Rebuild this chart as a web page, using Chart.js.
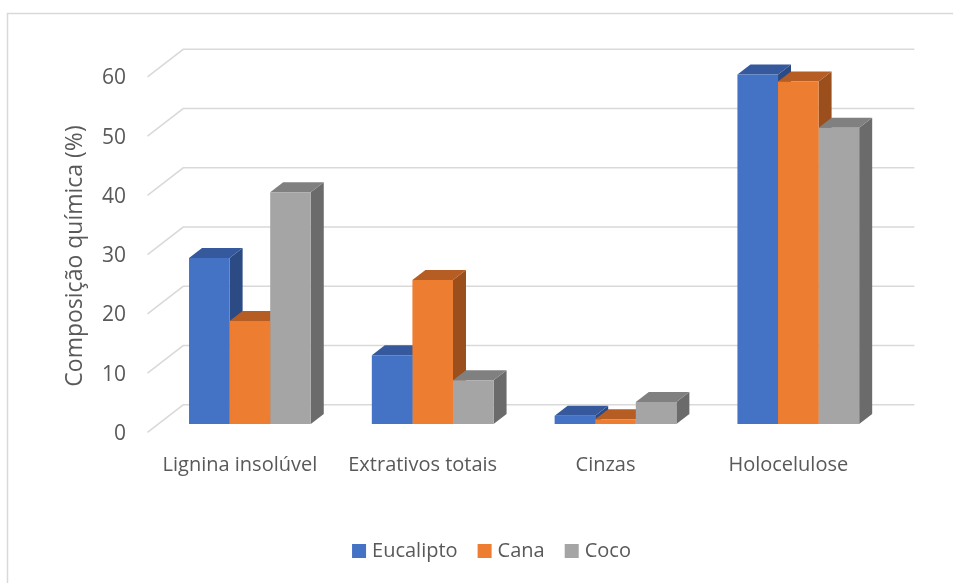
<!DOCTYPE html>
<html lang="pt">
<head>
<meta charset="utf-8">
<title>Composição química</title>
<script src="https://cdn.jsdelivr.net/npm/chart.js@4.4.0/dist/chart.umd.min.js"></script>
<style>
  html, body { margin: 0; padding: 0; background: #fff; }
  #wrap { position: relative; width: 953px; height: 583px; }
</style>
</head>
<body>
<div id="wrap"><canvas id="grafico" width="953" height="583"></canvas></div>
<script>
// dados (%)
const categorias = ['Lignina insolúvel', 'Extrativos totais', 'Cinzas', 'Holocelulose'];
const series = ['Eucalipto', 'Cana', 'Coco'];
const eucalipto = [28.0, 11.6, 1.4, 59.0];
const cana = [17.4, 24.3, 0.8, 57.8];
const coco = [39.1, 7.4, 3.7, 50.0];
const yMin = 0, yMax = 60, yPasso = 10;
const tituloY = 'Composição química (%)';

// cores: frente, topo, lateral
const cores = [
  ['#4472c4', '#35599c', '#2c4b85'],
  ['#ed7d31', '#b55d22', '#9a4f1d'],
  ['#a5a5a5', '#808080', '#6b6b6b']
];

const FONTE = "'Open Sans', 'Noto Sans', sans-serif";
const TEXTO = '#595959';
const GRADE = '#d9d9d9';

// deslocamentos do efeito 3D (px)
const PROF = { x: 13, y: -10 };       // profundidade das barras
const FUNDO = { x: 24.7, y: -19.2 };  // parede do fundo
const PISO = { x: -11, y: 8.3 };      // borda da frente do piso

const efeito3d = {
  id: 'efeito3d',
  beforeDraw(chart) {
    const { ctx, width, height } = chart;
    ctx.save();
    ctx.strokeStyle = GRADE;
    ctx.lineWidth = 1.5;
    ctx.beginPath();
    ctx.moveTo(7.5, height);
    ctx.lineTo(7.5, 13.5);
    ctx.lineTo(width, 13.5);
    ctx.stroke();
    ctx.restore();
  },
  beforeDatasetsDraw(chart) {
    const { ctx, chartArea: a, scales: { y } } = chart;
    ctx.save();
    // grade na parede do fundo + diagonais do lado esquerdo
    ctx.strokeStyle = GRADE;
    ctx.lineWidth = 1.5;
    y.ticks.forEach(t => {
      const py = y.getPixelForValue(t.value);
      ctx.beginPath();
      ctx.moveTo(a.left + PISO.x, py + PISO.y);
      ctx.lineTo(a.left + FUNDO.x, py + FUNDO.y);
      ctx.lineTo(a.right + FUNDO.x, py + FUNDO.y);
      ctx.stroke();
    });
    // topo e lateral de cada barra, da esquerda para a direita
    categorias.forEach((_, j) => {
      chart.data.datasets.forEach((ds, i) => {
        const b = chart.getDatasetMeta(i).data[j];
        const { x, y: topo, base, width } = b.getProps(['x', 'y', 'base', 'width'], true);
        const l = x - width / 2, r = x + width / 2;
        ctx.fillStyle = cores[i][2];
        ctx.beginPath();
        ctx.moveTo(r, topo);
        ctx.lineTo(r + PROF.x, topo + PROF.y);
        ctx.lineTo(r + PROF.x, base + PROF.y);
        ctx.lineTo(r, base);
        ctx.closePath();
        ctx.fill();
        ctx.fillStyle = cores[i][1];
        ctx.beginPath();
        ctx.moveTo(l, topo);
        ctx.lineTo(r, topo);
        ctx.lineTo(r + PROF.x, topo + PROF.y);
        ctx.lineTo(l + PROF.x, topo + PROF.y);
        ctx.closePath();
        ctx.fill();
      });
    });
    ctx.restore();
  },
  afterDraw(chart) {
    const { ctx } = chart;
    ctx.save();
    ctx.fillStyle = TEXTO;
    // título do eixo Y
    ctx.font = `23px ${FONTE}`;
    ctx.textAlign = 'center';
    ctx.textBaseline = 'middle';
    ctx.translate(75.5, 256);
    ctx.rotate(-Math.PI / 2);
    ctx.fillText(tituloY, 0, 0);
    ctx.setTransform(1, 0, 0, 1, 0, 0);
    // legenda
    ctx.font = `20px ${FONTE}`;
    ctx.textAlign = 'left';
    const itens = chart.data.datasets.map(ds => ({ t: ds.label, c: ds.backgroundColor, w: ctx.measureText(ds.label).width }));
    const total = itens.reduce((s, it) => s + 14 + 6 + it.w, 0) + 20 * (itens.length - 1);
    let x = 491.5 - total / 2;
    itens.forEach(it => {
      ctx.fillStyle = it.c;
      ctx.fillRect(x, 544, 14, 14);
      ctx.fillStyle = TEXTO;
      ctx.fillText(it.t, x + 20, 551);
      x += 20 + it.w + 20;
    });
    ctx.restore();
  }
};

const dados = [eucalipto, cana, coco];

new Chart(document.getElementById('grafico'), {
  type: 'bar',
  data: {
    labels: categorias,
    datasets: series.map((nome, i) => ({
      label: nome,
      data: dados[i],
      backgroundColor: cores[i][0],
      borderWidth: 0,
      barPercentage: 1,
      categoryPercentage: 0.666
    }))
  },
  options: {
    responsive: false,
    animation: false,
    layout: { padding: { top: 68.5, right: 63.3, bottom: 0, left: 0 } },
    plugins: {
      legend: { display: false },
      tooltip: { enabled: false }
    },
    scales: {
      x: {
        grid: { display: false, drawTicks: false },
        border: { display: false },
        ticks: { color: TEXTO, font: { family: FONTE, size: 20 }, padding: 29, labelOffset: -10, maxRotation: 0 },
        afterFit(s) { s.height = 159; }
      },
      y: {
        min: yMin,
        max: yMax,
        grid: { display: false, drawTicks: false },
        border: { display: false },
        ticks: { stepSize: yPasso, color: TEXTO, font: { family: FONTE, size: 21 }, padding: 32.5, labelOffset: 10 },
        afterFit(s) { s.width = 158.5; }
      }
    }
  },
  plugins: [efeito3d]
});
</script>
</body>
</html>
